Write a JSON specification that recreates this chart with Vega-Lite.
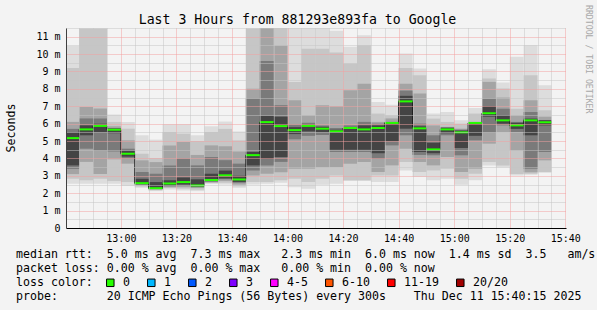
{
  "$schema": "https://vega.github.io/schema/vega-lite/v6.json",
  "width": 500,
  "height": 200,
  "autosize": {"type": "none"},
  "padding": {"left": 66, "top": 28, "right": 31, "bottom": 82},
  "background": "#f3f3f3",
  "config": {"view": {"stroke": null, "fill": "#ffffff"}},
  "data": {"values": [
    {"t0":"2025-12-11T12:40:00Z","t1":"2025-12-11T12:45:00Z","a0":2.54,"a1":10.47,"b0":2.83,"b1":9.2,"c0":3.1,"c1":6.1,"d0":3.4,"d1":5.7,"e0":3.6,"e1":5.5,"m":5.17},
    {"t0":"2025-12-11T12:45:00Z","t1":"2025-12-11T12:50:00Z","a0":2.54,"a1":11.5,"b0":2.74,"b1":11.45,"c0":3.8,"c1":6.96,"d0":4.56,"d1":6.3,"e0":5.33,"e1":5.9,"m":5.67},
    {"t0":"2025-12-11T12:50:00Z","t1":"2025-12-11T12:55:00Z","a0":2.54,"a1":11.5,"b0":2.83,"b1":11.45,"c0":3.1,"c1":6.87,"d0":4.46,"d1":6.3,"e0":5.5,"e1":6.0,"m":5.87},
    {"t0":"2025-12-11T12:55:00Z","t1":"2025-12-11T13:00:00Z","a0":2.54,"a1":6.52,"b0":2.7,"b1":6.1,"c0":3.95,"c1":5.85,"d0":4.4,"d1":5.75,"e0":5.45,"e1":5.72,"m":5.65},
    {"t0":"2025-12-11T13:00:00Z","t1":"2025-12-11T13:05:00Z","a0":2.41,"a1":6.1,"b0":2.64,"b1":5.71,"c0":3.7,"c1":5.04,"d0":4.0,"d1":4.56,"e0":4.1,"e1":4.45,"m":4.27},
    {"t0":"2025-12-11T13:05:00Z","t1":"2025-12-11T13:10:00Z","a0":2.31,"a1":5.33,"b0":2.38,"b1":4.27,"c0":2.45,"c1":3.89,"d0":2.5,"d1":3.22,"e0":2.52,"e1":2.83,"m":2.58},
    {"t0":"2025-12-11T13:10:00Z","t1":"2025-12-11T13:15:00Z","a0":2.12,"a1":5.08,"b0":2.17,"b1":4.02,"c0":2.22,"c1":3.79,"d0":2.24,"d1":3.12,"e0":2.26,"e1":2.64,"m":2.29},
    {"t0":"2025-12-11T13:15:00Z","t1":"2025-12-11T13:20:00Z","a0":2.22,"a1":5.96,"b0":2.3,"b1":5.52,"c0":2.35,"c1":4.75,"d0":2.4,"d1":3.6,"e0":2.45,"e1":2.74,"m":2.56},
    {"t0":"2025-12-11T13:20:00Z","t1":"2025-12-11T13:25:00Z","a0":2.16,"a1":5.96,"b0":2.25,"b1":5.42,"c0":2.35,"c1":4.94,"d0":2.42,"d1":4.0,"e0":2.5,"e1":2.9,"m":2.64},
    {"t0":"2025-12-11T13:25:00Z","t1":"2025-12-11T13:30:00Z","a0":2.12,"a1":5.33,"b0":2.2,"b1":5.0,"c0":2.3,"c1":4.2,"d0":2.35,"d1":3.6,"e0":2.4,"e1":2.8,"m":2.45},
    {"t0":"2025-12-11T13:30:00Z","t1":"2025-12-11T13:35:00Z","a0":2.54,"a1":5.85,"b0":2.58,"b1":5.52,"c0":2.62,"c1":4.75,"d0":2.66,"d1":4.08,"e0":2.7,"e1":3.12,"m":2.76},
    {"t0":"2025-12-11T13:35:00Z","t1":"2025-12-11T13:40:00Z","a0":2.5,"a1":6.12,"b0":2.6,"b1":5.7,"c0":2.7,"c1":4.7,"d0":2.8,"d1":3.9,"e0":2.85,"e1":3.3,"m":3.03},
    {"t0":"2025-12-11T13:40:00Z","t1":"2025-12-11T13:45:00Z","a0":2.31,"a1":5.55,"b0":2.4,"b1":5.04,"c0":2.5,"c1":4.4,"d0":2.6,"d1":3.7,"e0":2.65,"e1":3.0,"m":2.79},
    {"t0":"2025-12-11T13:45:00Z","t1":"2025-12-11T13:50:00Z","a0":2.5,"a1":11.5,"b0":2.64,"b1":11.45,"c0":3.02,"c1":8.0,"d0":3.3,"d1":7.44,"e0":3.6,"e1":4.37,"m":4.19},
    {"t0":"2025-12-11T13:50:00Z","t1":"2025-12-11T13:55:00Z","a0":2.55,"a1":11.5,"b0":2.64,"b1":11.5,"c0":3.12,"c1":11.5,"d0":3.6,"d1":9.6,"e0":3.98,"e1":6.45,"m":6.09},
    {"t0":"2025-12-11T13:55:00Z","t1":"2025-12-11T14:00:00Z","a0":2.6,"a1":11.5,"b0":2.75,"b1":11.5,"c0":3.2,"c1":10.5,"d0":3.8,"d1":7.06,"e0":4.08,"e1":6.4,"m":5.86},
    {"t0":"2025-12-11T14:00:00Z","t1":"2025-12-11T14:05:00Z","a0":2.35,"a1":11.5,"b0":2.83,"b1":8.4,"c0":3.41,"c1":7.34,"d0":5.1,"d1":5.95,"e0":5.4,"e1":5.8,"m":5.63},
    {"t0":"2025-12-11T14:05:00Z","t1":"2025-12-11T14:10:00Z","a0":2.26,"a1":11.5,"b0":2.64,"b1":10.3,"c0":3.41,"c1":6.48,"d0":5.3,"d1":6.05,"e0":5.55,"e1":5.95,"m":5.87},
    {"t0":"2025-12-11T14:10:00Z","t1":"2025-12-11T14:15:00Z","a0":2.49,"a1":11.5,"b0":2.83,"b1":10.3,"c0":3.5,"c1":7.06,"d0":5.35,"d1":5.9,"e0":5.5,"e1":5.82,"m":5.71},
    {"t0":"2025-12-11T14:15:00Z","t1":"2025-12-11T14:20:00Z","a0":2.54,"a1":11.34,"b0":3.02,"b1":10.09,"c0":3.5,"c1":7.0,"d0":4.37,"d1":5.75,"e0":4.5,"e1":5.65,"m":5.56},
    {"t0":"2025-12-11T14:20:00Z","t1":"2025-12-11T14:25:00Z","a0":2.7,"a1":10.42,"b0":2.74,"b1":9.46,"c0":3.7,"c1":7.92,"d0":4.37,"d1":5.9,"e0":4.5,"e1":5.8,"m":5.75},
    {"t0":"2025-12-11T14:25:00Z","t1":"2025-12-11T14:30:00Z","a0":2.7,"a1":11.09,"b0":2.74,"b1":10.51,"c0":3.79,"c1":8.3,"d0":4.37,"d1":6.1,"e0":4.5,"e1":5.9,"m":5.67},
    {"t0":"2025-12-11T14:30:00Z","t1":"2025-12-11T14:35:00Z","a0":2.64,"a1":7.24,"b0":3.02,"b1":6.58,"c0":3.22,"c1":6.1,"d0":3.98,"d1":6.0,"e0":4.3,"e1":5.9,"m":5.75},
    {"t0":"2025-12-11T14:35:00Z","t1":"2025-12-11T14:40:00Z","a0":2.64,"a1":7.09,"b0":3.02,"b1":6.48,"c0":3.6,"c1":6.3,"d0":4.75,"d1":6.1,"e0":5.0,"e1":6.08,"m":6.04},
    {"t0":"2025-12-11T14:40:00Z","t1":"2025-12-11T14:45:00Z","a0":3.31,"a1":10.03,"b0":3.8,"b1":9.2,"c0":4.56,"c1":8.3,"d0":5.33,"d1":7.9,"e0":5.71,"e1":7.6,"m":7.28},
    {"t0":"2025-12-11T14:45:00Z","t1":"2025-12-11T14:50:00Z","a0":2.93,"a1":9.17,"b0":3.22,"b1":8.79,"c0":3.8,"c1":7.73,"d0":4.2,"d1":6.0,"e0":4.37,"e1":5.85,"m":5.73},
    {"t0":"2025-12-11T14:50:00Z","t1":"2025-12-11T14:55:00Z","a0":2.74,"a1":6.58,"b0":3.31,"b1":6.29,"c0":3.6,"c1":5.9,"d0":4.18,"d1":5.33,"e0":4.3,"e1":4.9,"m":4.52},
    {"t0":"2025-12-11T14:55:00Z","t1":"2025-12-11T15:00:00Z","a0":2.83,"a1":6.67,"b0":3.41,"b1":6.1,"c0":4.08,"c1":5.81,"d0":5.33,"d1":5.81,"e0":5.45,"e1":5.75,"m":5.67},
    {"t0":"2025-12-11T15:00:00Z","t1":"2025-12-11T15:05:00Z","a0":2.49,"a1":6.19,"b0":2.83,"b1":6.0,"c0":3.22,"c1":5.71,"d0":4.18,"d1":5.65,"e0":4.6,"e1":5.6,"m":5.5},
    {"t0":"2025-12-11T15:05:00Z","t1":"2025-12-11T15:10:00Z","a0":2.74,"a1":6.9,"b0":3.12,"b1":6.58,"c0":3.41,"c1":6.1,"d0":5.04,"d1":6.08,"e0":5.3,"e1":6.06,"m":6.04},
    {"t0":"2025-12-11T15:10:00Z","t1":"2025-12-11T15:15:00Z","a0":3.6,"a1":9.13,"b0":3.8,"b1":8.59,"c0":4.85,"c1":8.4,"d0":5.5,"d1":7.44,"e0":6.4,"e1":7.0,"m":6.6},
    {"t0":"2025-12-11T15:15:00Z","t1":"2025-12-11T15:20:00Z","a0":3.5,"a1":8.36,"b0":3.6,"b1":8.02,"c0":5.52,"c1":7.5,"d0":5.9,"d1":6.86,"e0":6.0,"e1":6.48,"m":6.19},
    {"t0":"2025-12-11T15:20:00Z","t1":"2025-12-11T15:25:00Z","a0":3.02,"a1":9.84,"b0":3.1,"b1":6.86,"c0":4.46,"c1":6.48,"d0":5.52,"d1":6.1,"e0":5.7,"e1":6.05,"m":5.9},
    {"t0":"2025-12-11T15:25:00Z","t1":"2025-12-11T15:30:00Z","a0":3.06,"a1":10.51,"b0":3.12,"b1":8.79,"c0":3.2,"c1":7.34,"d0":3.41,"d1":6.67,"e0":5.33,"e1":6.29,"m":6.19},
    {"t0":"2025-12-11T15:30:00Z","t1":"2025-12-11T15:35:00Z","a0":3.18,"a1":8.21,"b0":3.22,"b1":6.77,"c0":3.89,"c1":6.4,"d0":4.37,"d1":6.19,"e0":5.9,"e1":6.2,"m":6.08}
  ]},
  "resolve": {"axis": {"x": "independent", "y": "independent"}},
  "layer": [
    {
      "mark": {"type": "rect", "color": "#dddddd", "clip": true},
      "encoding": {
        "x": {"field": "t0", "type": "temporal",
          "scale": {"type": "utc", "domain": [1765456815000, 1765467615000]},
          "axis": {
            "orient": "bottom", "zindex": 1,
            "values": [1765457100000,1765457400000,1765457700000,1765458000000,1765458300000,1765458600000,1765458900000,1765459200000,1765459500000,1765459800000,1765460100000,1765460400000,1765460700000,1765461000000,1765461300000,1765461600000,1765461900000,1765462200000,1765462500000,1765462800000,1765463100000,1765463400000,1765463700000,1765464000000,1765464300000,1765464600000,1765464900000,1765465200000,1765465500000,1765465800000,1765466100000,1765466400000,1765466700000,1765467000000,1765467300000,1765467600000],
            "labelExpr": "datum.value % 1200000 == 0 ? (floor((datum.value % 86400000) / 3600000) + ':' + (floor((datum.value % 3600000) / 60000) < 10 ? '0' : '') + floor((datum.value % 3600000) / 60000)) : ''",
            "labelFont": "DejaVu Sans Mono", "labelFontSize": 10, "labelColor": "#000000",
            "labelBaseline": "alphabetic", "labelAlign": "center", "labelAngle": 0, "labelPadding": 13.2,
            "labelOverlap": false, "labelFlush": false,
            "ticks": false, "tickSize": 0,
            "grid": true, "gridDash": [1, 1], "gridWidth": 1, "gridOpacity": 1,
            "gridColor": {"condition": {"test": "datum.value % 1200000 == 0", "value": "#f2a0a0"}, "value": "#c4c4c4"},
            "domain": true, "domainColor": "#000000", "domainWidth": 1,
            "title": "median rtt:\u00a0\u00a05.0 ms avg\u00a0\u00a07.3 ms max\u00a0\u00a0\u00a02.3 ms min\u00a0\u00a06.0 ms now\u00a0\u00a01.4 ms sd\u00a0\u00a03.5\u00a0\u00a0\u00a0am/s",
            "titleX": -50.5, "titleY": 29.8, "titleAlign": "left", "titleBaseline": "alphabetic", "titleAngle": 0,
            "titleFont": "DejaVu Sans Mono", "titleFontSize": 11.6, "titleFontWeight": "normal", "titleColor": "#000000", "titleLimit": 2000
          }},
        "x2": {"field": "t1"},
        "y": {"field": "a0", "type": "quantitative",
          "scale": {"domain": [0, 11.5], "nice": false, "zero": false},
          "axis": {
            "orient": "left", "zindex": 1,
            "values": [0,0.5,1,1.5,2,2.5,3,3.5,4,4.5,5,5.5,6,6.5,7,7.5,8,8.5,9,9.5,10,10.5,11,11.5],
            "labelExpr": "datum.value % 1 == 0 ? (datum.value == 0 ? '0' : datum.value + ' m') : ''",
            "labelFont": "DejaVu Sans Mono", "labelFontSize": 10, "labelColor": "#000000",
            "labelPadding": 6, "labelOverlap": false, "labelFlush": false,
            "ticks": false, "tickSize": 0,
            "grid": true, "gridDash": [1, 1], "gridWidth": 1,
            "gridColor": {"condition": {"test": "datum.value % 1 == 0", "value": "#f2a0a0"}, "value": "#c4c4c4"},
            "gridOpacity": {"condition": {"test": "datum.value == 0", "value": 0}, "value": 1},
            "domain": true, "domainColor": "#404040", "domainWidth": 1,
            "title": "Seconds", "titleX": -51.5, "titleY": 99.5, "titleAngle": 270, "titleAlign": "center", "titleBaseline": "alphabetic",
            "titleFont": "DejaVu Sans Mono", "titleFontSize": 11.6, "titleFontWeight": "normal", "titleColor": "#000000"
          }},
        "y2": {"field": "a1"}
      }
    },
    {
      "mark": {"type": "rect", "color": "#c6c6c6", "clip": true},
      "encoding": {
        "x": {"field": "t0", "type": "temporal",
          "scale": {"type": "utc", "domain": [1765456815000, 1765467615000]},
          "axis": {
            "orient": "top", "domain": false, "ticks": false, "labels": false, "grid": false,
            "title": "Last 3 Hours from 881293e893fa to Google",
            "titleX": 231, "titleY": -4.5, "titleAlign": "center", "titleBaseline": "alphabetic", "titleAngle": 0,
            "titleFont": "DejaVu Sans Mono", "titleFontSize": 13.2, "titleFontWeight": "normal", "titleColor": "#000000", "titleLimit": 2000
          }},
        "x2": {"field": "t1"},
        "y": {"field": "b0", "type": "quantitative",
          "scale": {"domain": [0, 11.5], "nice": false, "zero": false},
          "axis": {
            "orient": "right", "domain": false, "ticks": false, "labels": false, "grid": false,
            "title": "RRDTOOL / TOBI OETIKER",
            "titleX": 19.2, "titleY": -23.5, "titleAngle": 90, "titleAlign": "left", "titleBaseline": "alphabetic",
            "titleFont": "DejaVu Sans Mono", "titleFontSize": 8.2, "titleFontWeight": "normal", "titleColor": "#a8a8a8", "titleLimit": 2000
          }},
        "y2": {"field": "b1"}
      }
    },
    {
      "mark": {"type": "rect", "color": "#a4a4a4", "clip": true},
      "encoding": {
        "x": {"field": "t0", "type": "temporal",
          "scale": {"type": "utc", "domain": [1765456815000, 1765467615000]},
          "axis": {
            "orient": "bottom", "domain": false, "ticks": false, "labels": false, "grid": false,
            "title": "packet loss: 0.00 % avg\u00a0\u00a00.00 % max\u00a0\u00a0\u00a00.00 % min\u00a0\u00a00.00 % now",
            "titleX": -50.5, "titleY": 43.8, "titleAlign": "left", "titleBaseline": "alphabetic", "titleAngle": 0,
            "titleFont": "DejaVu Sans Mono", "titleFontSize": 11.6, "titleFontWeight": "normal", "titleColor": "#000000", "titleLimit": 2000
          }},
        "x2": {"field": "t1"},
        "y": {"field": "c0", "type": "quantitative", "scale": {"domain": [0, 11.5], "nice": false, "zero": false}, "axis": null},
        "y2": {"field": "c1"}
      }
    },
    {
      "mark": {"type": "rect", "color": "#7a7a7a", "clip": true},
      "encoding": {
        "x": {"field": "t0", "type": "temporal",
          "scale": {"type": "utc", "domain": [1765456815000, 1765467615000]},
          "axis": {
            "orient": "bottom", "domain": false, "ticks": false, "labels": false, "grid": false,
            "title": "loss color:",
            "titleX": -50.5, "titleY": 57.8, "titleAlign": "left", "titleBaseline": "alphabetic", "titleAngle": 0,
            "titleFont": "DejaVu Sans Mono", "titleFontSize": 11.6, "titleFontWeight": "normal", "titleColor": "#000000", "titleLimit": 2000
          }},
        "x2": {"field": "t1"},
        "y": {"field": "d0", "type": "quantitative", "scale": {"domain": [0, 11.5], "nice": false, "zero": false}, "axis": null},
        "y2": {"field": "d1"}
      }
    },
    {
      "mark": {"type": "rect", "color": "#444444", "clip": true},
      "encoding": {
        "x": {"field": "t0", "type": "temporal",
          "scale": {"type": "utc", "domain": [1765456815000, 1765467615000]},
          "axis": {
            "orient": "bottom", "domain": false, "ticks": false, "labels": false, "grid": false,
            "title": "probe:\u00a0\u00a0\u00a0\u00a0\u00a0\u00a0\u00a020 ICMP Echo Pings (56 Bytes) every 300s\u00a0\u00a0\u00a0\u00a0Thu Dec 11 15:40:15 2025",
            "titleX": -50.5, "titleY": 71.8, "titleAlign": "left", "titleBaseline": "alphabetic", "titleAngle": 0,
            "titleFont": "DejaVu Sans Mono", "titleFontSize": 11.6, "titleFontWeight": "normal", "titleColor": "#000000", "titleLimit": 2000
          }},
        "x2": {"field": "t1"},
        "y": {"field": "e0", "type": "quantitative", "scale": {"domain": [0, 11.5], "nice": false, "zero": false}, "axis": null},
        "y2": {"field": "e1"}
      }
    },
    {
      "mark": {"type": "line", "color": "#202020", "strokeWidth": 1, "interpolate": "step-after", "clip": true},
      "encoding": {
        "x": {"field": "t0", "type": "temporal",
          "scale": {"type": "utc", "domain": [1765456815000, 1765467615000]},
          "axis": null},
        "y": {"field": "m", "type": "quantitative", "scale": {"domain": [0, 11.5], "nice": false, "zero": false}, "axis": null}
      }
    },
    {
      "mark": {"type": "rule", "color": "#26ff00", "strokeWidth": 2, "clip": true},
      "encoding": {
        "x": {"field": "t0", "type": "temporal",
          "scale": {"type": "utc", "domain": [1765456815000, 1765467615000]},
          "axis": null},
        "x2": {"field": "t1"},
        "y": {"field": "m", "type": "quantitative", "scale": {"domain": [0, 11.5], "nice": false, "zero": false}, "axis": null}
      }
    },
    {
      "data": {"values": [{"loss":"0"},{"loss":"1"},{"loss":"2"},{"loss":"3"},{"loss":"4-5"},{"loss":"6-10"},{"loss":"11-19"},{"loss":"20/20"}]},
      "mark": {"type": "square", "opacity": 0},
      "encoding": {
        "color": {"field": "loss", "type": "nominal",
          "scale": {"domain": ["0","1","2","3","4-5","6-10","11-19","20/20"], "range": ["#26ff00","#00b8ff","#0059ff","#7e00ff","#ff00ff","#ff5500","#ff0000","#a10000"]},
          "legend": {
            "orient": "none", "legendX": 38.5, "legendY": 249, "direction": "horizontal", "title": null,
            "symbolType": "square", "symbolSize": 56, "symbolOpacity": 1, "symbolStrokeColor": "#000000", "symbolStrokeWidth": 1,
            "labelFont": "DejaVu Sans Mono", "labelFontSize": 11.6, "labelColor": "#000000", "labelOffset": 7,
            "columnPadding": 15, "padding": 0, "rowPadding": 0, "gridAlign": "none",
            "encode": {"symbols": {"update": {"stroke": {"value": "#000000"}, "strokeWidth": {"value": 1}, "opacity": {"value": 1}}}}
          }}
      }
    }
  ]
}
